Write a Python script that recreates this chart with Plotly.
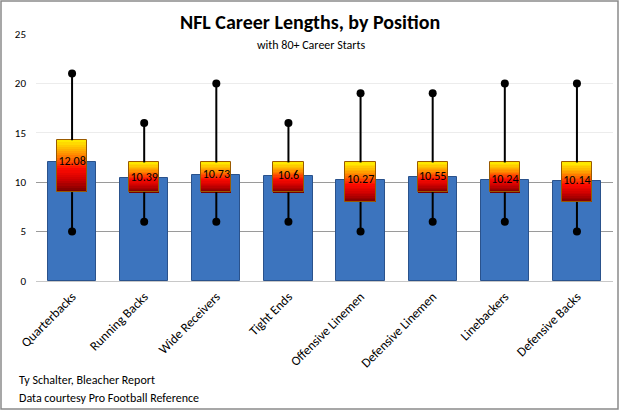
import plotly.graph_objects as go

positions = ["Quarterbacks", "Running Backs", "Wide Receivers", "Tight Ends",
             "Offensive Linemen", "Defensive Linemen", "Linebackers", "Defensive Backs"]
mean_len = [12.08, 10.39, 10.73, 10.6, 10.27, 10.55, 10.24, 10.14]
min_len = [5, 6, 6, 6, 5, 6, 6, 5]
q1_len = [9, 9, 9, 9, 8, 9, 9, 8]
q3_len = [14.25, 12, 12, 12, 12, 12, 12, 12]
max_len = [21, 16, 20, 16, 19, 19, 20, 20]

FONT = "Carlito, 'Liberation Sans Narrow', Lato, sans-serif"

def lerp(c1, c2, t):
    return tuple(round(a + (b - a) * t) for a, b in zip(c1, c2))

stops = [(0.0, (110, 0, 0)), (0.22, (200, 0, 0)), (0.45, (255, 10, 0)),
         (0.72, (255, 140, 0)), (1.0, (255, 240, 0))]

def grad(t):
    for (t0, c0), (t1, c1) in zip(stops, stops[1:]):
        if t <= t1:
            return "rgb(%d,%d,%d)" % lerp(c0, c1, (t - t0) / (t1 - t0))
    return "rgb(%d,%d,%d)" % stops[-1][1]

fig = go.Figure()

# blue mean bars
fig.add_trace(go.Bar(x=positions, y=mean_len, width=0.67,
                     marker=dict(color="#3c74be", line=dict(color="#2a528c", width=1)),
                     hoverinfo="skip", showlegend=False))

# gradient boxes (q1..q3) as stacked slices
N = 24
span = [b - a for a, b in zip(q1_len, q3_len)]
for k in range(N):
    bases = [a + s * k / N for a, s in zip(q1_len, span)]
    heights = [s / N * 1.02 for s in span]
    fig.add_trace(go.Bar(x=positions, y=heights, base=bases, width=0.42,
                         marker=dict(color=grad((k + 0.5) / N), line=dict(width=0)),
                         hoverinfo="skip", showlegend=False))
fig.add_trace(go.Bar(x=positions, y=span, base=q1_len, width=0.42,
                     marker=dict(color="rgba(0,0,0,0)", line=dict(color="#9a5a00", width=1)),
                     hoverinfo="skip", showlegend=False))

# whiskers
wx, wy = [], []
for p, lo, a, b, hi in zip(positions, min_len, q1_len, q3_len, max_len):
    wx += [p, p, None, p, p, None]
    wy += [lo, a, None, b, hi, None]
fig.add_trace(go.Scatter(x=wx, y=wy, mode="lines", line=dict(color="black", width=2),
                         hoverinfo="skip", showlegend=False))
fig.add_trace(go.Scatter(x=positions + positions, y=min_len + max_len, mode="markers",
                         marker=dict(color="black", size=8), hoverinfo="skip", showlegend=False))

# labels
fig.add_trace(go.Scatter(x=positions, y=mean_len, mode="text", text=[str(v) for v in mean_len],
                         textfont=dict(family=FONT, size=12, color="black"),
                         textposition="middle center", yaxis="y2",
                         hoverinfo="skip", showlegend=False))

fig.update_layout(
    width=620, height=411,
    margin=dict(l=36, r=7, t=34, b=130),
    paper_bgcolor="white", plot_bgcolor="white",
    barmode="overlay", bargap=0,
    font=dict(family=FONT, color="black"),
    xaxis=dict(type="category", tickangle=-45, tickfont=dict(size=13, family=FONT),
               showline=True, linecolor="#c8c8c8", linewidth=1, ticks="",
               showgrid=False, ticklabelstandoff=2),
    yaxis=dict(range=[0, 25], tickvals=[0, 5, 10, 15, 20, 25], showgrid=True,
               gridcolor="#ececec", zeroline=False, tickfont=dict(size=11, family=FONT),
               ticks="", ticklen=0, ticklabelstandoff=9),
    yaxis2=dict(range=[0, 25], overlaying="y", tickvals=[5, 10], showgrid=True,
                gridcolor="#9a9a9a", showticklabels=False, zeroline=False, ticks=""),
    showlegend=False,
)

pw, ph = 577, 247
def px(xp): return (xp - 36) / pw
def py(yp): return (281 - yp) / ph

fig.add_annotation(text="<b>NFL Career Lengths, by Position</b>", x=px(310), y=py(22),
                   xref="paper", yref="paper", showarrow=False,
                   font=dict(size=20, family=FONT), xanchor="center", yanchor="middle")
fig.add_annotation(text="with 80+ Career Starts", x=px(311), y=py(45),
                   xref="paper", yref="paper", showarrow=False,
                   font=dict(size=12, family=FONT), xanchor="center", yanchor="middle")
fig.add_annotation(text="Ty Schalter, Bleacher Report", x=px(17), y=py(380),
                   xref="paper", yref="paper", showarrow=False,
                   font=dict(size=12, family=FONT), xanchor="left", yanchor="middle")
fig.add_annotation(text="Data courtesy Pro Football Reference", x=px(17), y=py(398),
                   xref="paper", yref="paper", showarrow=False,
                   font=dict(size=12, family=FONT), xanchor="left", yanchor="middle")

fig.add_shape(type="rect", xref="paper", yref="paper",
              x0=px(1), x1=px(618), y0=py(409), y1=py(1),
              line=dict(color="#8a8a8a", width=1.5), layer="above")

fig.write_html("out.html")
